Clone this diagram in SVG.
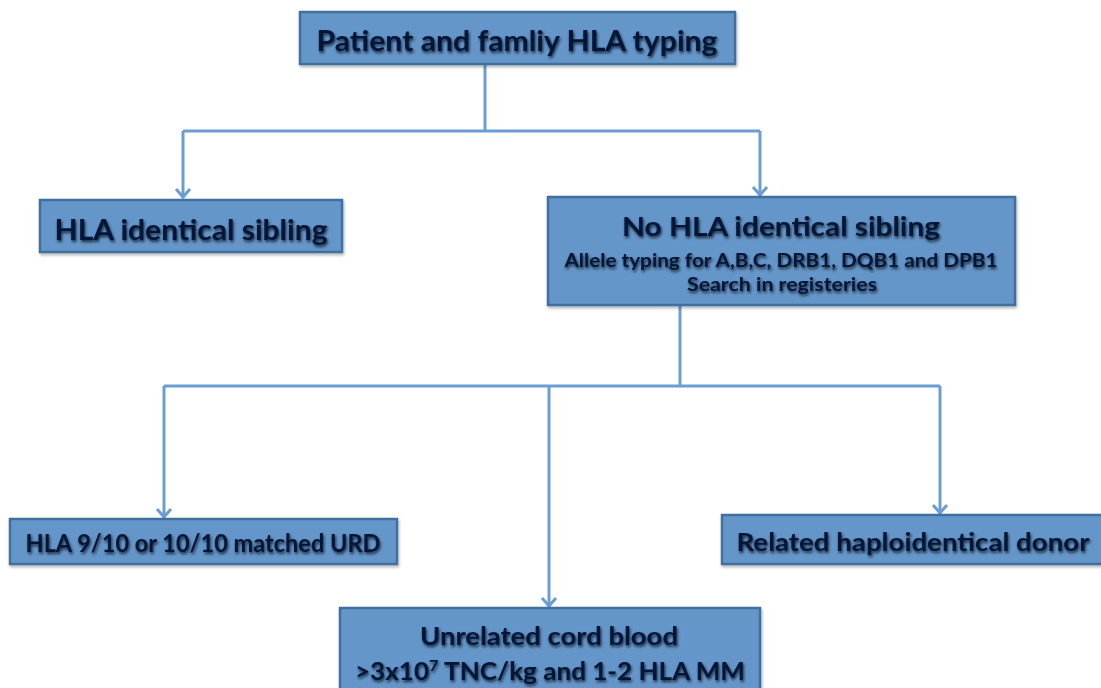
<svg xmlns="http://www.w3.org/2000/svg" width="1101" height="688" viewBox="0 0 1101 688">
<defs>
<style>
.box{fill:#6596c9;stroke:#41709f;stroke-width:2.5;filter:url(#bs)}
.t{font-family:Lato,"Open Sans","Liberation Sans",sans-serif;font-weight:bold;fill:#061739;text-anchor:middle;filter:url(#ts)}
.c{fill:none;stroke:#6a9dd2;stroke-width:3}
</style>
<filter id="ts" x="-10%" y="-30%" width="120%" height="160%">
<feGaussianBlur in="SourceAlpha" stdDeviation="1.6" result="b"/>
<feOffset in="b" dx="1" dy="1.5" result="o"/>
<feComponentTransfer in="o" result="s"><feFuncA type="linear" slope="0.75"/></feComponentTransfer>
<feMerge><feMergeNode in="s"/><feMergeNode in="SourceGraphic"/></feMerge>
</filter>
<filter id="bs" x="-5%" y="-10%" width="110%" height="130%">
<feGaussianBlur in="SourceAlpha" stdDeviation="1.5" result="b"/>
<feOffset in="b" dx="1" dy="2" result="o"/>
<feComponentTransfer in="o" result="s"><feFuncA type="linear" slope="0.3"/></feComponentTransfer>
<feMerge><feMergeNode in="s"/><feMergeNode in="SourceGraphic"/></feMerge>
</filter>
<marker id="ah" markerUnits="userSpaceOnUse" viewBox="-12 -10 14 20" refX="0" refY="0" markerWidth="14" markerHeight="20" orient="auto">
<path d="M-9,-7 L-1,0 L-9,7" fill="none" stroke="#6a9dd2" stroke-width="3"/>
</marker>
</defs>
<rect width="1101" height="688" fill="#ffffff"/>
<g id="connectors">
<path class="c" d="M485,64 V131"/>
<path class="c" d="M183,131 H760"/>
<path class="c" d="M183,131 V198" marker-end="url(#ah)"/>
<path class="c" d="M760,131 V196" marker-end="url(#ah)"/>
<path class="c" d="M680,306 V386"/>
<path class="c" d="M164,386 H940"/>
<path class="c" d="M164,386 V518" marker-end="url(#ah)"/>
<path class="c" d="M549,386 V607" marker-end="url(#ah)"/>
<path class="c" d="M940,386 V514" marker-end="url(#ah)"/>
</g>
<g id="node-patient">
<rect class="box" x="300" y="12" width="435" height="52"/>
<text class="t" x="517" y="51" font-size="28.5" textLength="401" lengthAdjust="spacingAndGlyphs">Patient and famliy HLA typing</text>
</g>
<g id="node-sibling">
<rect class="box" x="40" y="200" width="302" height="52"/>
<text class="t" x="191" y="240" font-size="28.5" textLength="273" lengthAdjust="spacingAndGlyphs">HLA identical sibling</text>
</g>
<g id="node-nosibling">
<rect class="box" x="548" y="197" width="467" height="108"/>
<text class="t" x="781" y="236" font-size="27.5" textLength="318" lengthAdjust="spacingAndGlyphs">No HLA identical sibling</text>
<text class="t" x="781" y="267" font-size="19" textLength="433" lengthAdjust="spacingAndGlyphs">Allele typing for A,B,C, DRB1, DQB1 and DPB1</text>
<text class="t" x="782" y="291" font-size="19" textLength="190" lengthAdjust="spacingAndGlyphs">Search in registeries</text>
</g>
<g id="node-urd">
<rect class="box" x="10" y="519" width="387" height="45"/>
<text class="t" x="203" y="552" font-size="24" textLength="355" lengthAdjust="spacingAndGlyphs">HLA 9/10 or 10/10 matched URD</text>
</g>
<g id="node-haplo">
<rect class="box" x="722" y="515" width="390" height="49"/>
<text class="t" x="913" y="551" font-size="24" textLength="353" lengthAdjust="spacingAndGlyphs">Related haploidentical donor</text>
</g>
<g id="node-cord">
<rect class="box" x="340" y="608" width="420" height="95"/>
<text class="t" x="549" y="645" font-size="24" textLength="258" lengthAdjust="spacingAndGlyphs">Unrelated cord blood</text>
<text class="t" x="550" y="680" font-size="24" textLength="390" lengthAdjust="spacingAndGlyphs">&gt;3x10<tspan font-size="15" dy="-9">7</tspan><tspan dy="9"> TNC/kg and 1-2 HLA MM</tspan></text>
</g>
</svg>
